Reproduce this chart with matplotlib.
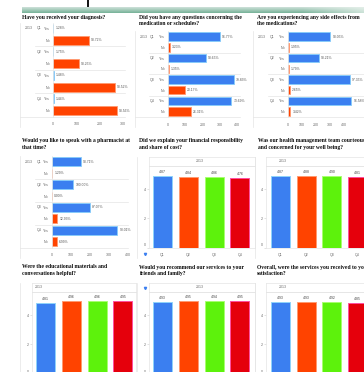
import matplotlib
matplotlib.use("Agg")
import matplotlib.pyplot as plt
import numpy as np
from matplotlib.lines import Line2D
from matplotlib.transforms import blended_transform_factory

W, H, DPI = 364, 372, 100

# ---- survey data -------------------------------------------------------
year = "2013"
quarters = ["Q1", "Q2", "Q3", "Q4"]
answers = ["Yes", "No"]

# yes / no response counts per quarter
diagnosis_yes = [2, 2, 4, 4]
diagnosis_no = [154, 112, 266, 273]
questions_yes = [300, 220, 380, 367]
questions_no = [10, 3, 96, 131]
side_effects_yes = [302, 219, 440, 452]
side_effects_no = [6, 4, 12, 16]
pharmacist_yes = [153, 114, 202, 346]
pharmacist_no = [2, 0, 30, 26]

# average satisfaction scores per quarter (1-5 scale)
financial_scores = [4.87, 4.84, 4.86, 4.76]
courtesy_scores = [4.87, 4.88, 4.90, 4.81]
materials_scores = [4.81, 4.96, 4.96, 4.95]
recommend_scores = [4.93, 4.95, 4.94, 4.95]
satisfaction_scores = [4.93, 4.93, 4.92, 4.85]

score_ticks = [0, 2, 4]

titles = {
    "diagnosis": "Have you received your diagnosis?",
    "questions": "Did you have any questions concerning the\nmedication or schedules?",
    "side_effects": "Are you experiencing any side effects from\nthe medications?",
    "pharmacist": "Would you like to speak with a pharmacist at\nthat time?",
    "financial": "Did we explain your financial responsibility\nand share of cost?",
    "courtesy": "Was our health management team courteous\nand concerned for your well being?",
    "materials": "Were the educational materials and\nconversations helpful?",
    "recommend": "Would you recommend our services to your\nfriends and family?",
    "satisfaction": "Overall, were the services you received to your\nsatisfaction?",
}

# ---- styling -----------------------------------------------------------
YES_COLOR, YES_EDGE = "#3b7ff0", "#86cdfa"
NO_COLOR, NO_EDGE = "#ff4300", "#ff9a70"
SCORE_COLORS = ["#3b7ff0", "#ff4300", "#5df20c", "#e5000c"]
SCORE_EDGES = ["#8fd3fb", "#ff9a70", "#a8ff70", "#ff4fa0"]
FRAME = "#e4e4e4"
TICK_COLOR = "#6a6a6a"
TICK_FONT = dict(family="Liberation Sans", size=2.6, color=TICK_COLOR)
TITLE_FONT = dict(family="Liberation Serif", size=4.1, weight="bold", color="#0d0d0d")

fig = plt.figure(figsize=(W / DPI, H / DPI), dpi=DPI)
fig.patch.set_facecolor("white")


def rect(x0, y0, x1, y1):
    return [x0 / W, 1 - y1 / H, (x1 - x0) / W, (y1 - y0) / H]


def fline(xs, ys, color=FRAME, lw=0.5):
    fig.add_artist(Line2D([x / W for x in xs], [1 - y / H for y in ys],
                          color=color, lw=lw, transform=fig.transFigure))


def title(x, y, text):
    for i, line in enumerate(text.split("\n")):
        fig.text(x / W, 1 - (y + i * 6.6) / H, line, ha="left", va="center",
                 **TITLE_FONT)


def hbar_panel(frame_left, left, right, top, bottom, yes, no, step, label_x,
               n_ticks):
    ax = fig.add_axes(rect(left, top, right, bottom))
    n = len(quarters)
    vals, colors, edges, labels = [], [], [], []
    for y_val, n_val in zip(yes, no):
        vals += [y_val, n_val]
        colors += [YES_COLOR, NO_COLOR]
        edges += [YES_EDGE, NO_EDGE]
        labels += answers
    pos = np.arange(2 * n)
    ax.barh(pos, vals, height=0.78, color=colors, edgecolor=edges, linewidth=0.6)
    ax.set_ylim(2 * n - 0.5, -0.5)
    xmax = (right - left) / step[1]
    ax.set_xlim(0, xmax)
    ticks = [step[0] * k for k in range(n_ticks)]
    ax.set_xticks(ticks, [f"{t:g}" for t in ticks], **TICK_FONT)
    ax.set_yticks(pos, labels, **TICK_FONT)
    ax.tick_params(length=0, pad=2.2)
    ax.tick_params(axis="x", pad=4.0)
    for s in ax.spines.values():
        s.set_visible(False)
    ax.spines["left"].set_visible(True)
    ax.spines["left"].set_color(FRAME)
    ax.spines["left"].set_linewidth(0.5)
    # percentage of each quarter's responses
    for q in range(n):
        total = yes[q] + no[q]
        for k, v in enumerate((yes[q], no[q])):
            pct = 100.0 * v / total if total else 0.0
            ax.annotate(f"{pct:.2f}%", (v, 2 * q + k), xytext=(1.6, 0),
                        textcoords="offset points", ha="left", va="center",
                        family="Liberation Sans", size=2.4, color="#555555")
    # year / quarter header column
    tr = blended_transform_factory(fig.transFigure, ax.transData)
    fig.text(label_x[0] / W, 0, year, transform=tr, ha="center", va="center",
             **TICK_FONT)
    for q, name in enumerate(quarters):
        fig.text(label_x[1] / W, 2 * q, name, transform=tr, ha="center",
                 va="center", **TICK_FONT)
    # frame lines of the table
    row_h = (bottom - top) / (2 * n)
    fline([frame_left, frame_left], [top, bottom + 10])
    fline([frame_left, right], [bottom, bottom])
    for q in range(1, n):
        yy = top + 2 * q * row_h
        fline([label_x[1] - 4, right], [yy, yy])
    return ax


def vbar_panel(frame_left, left, right, top, bottom, center0, scores,
               header_x, show_quarters=True):
    step, px_per_unit = 25.8, 14.6
    ax = fig.add_axes(rect(left, top, right, bottom))
    x = np.arange(len(quarters))
    ax.bar(x, scores, width=0.74, color=SCORE_COLORS, edgecolor=SCORE_EDGES,
           linewidth=0.7)
    ax.set_xlim(-(center0 - left) / step, (right - center0) / step)
    ax.set_ylim(0, (bottom - top) / px_per_unit)
    ax.set_yticks(score_ticks, [str(t) for t in score_ticks], **TICK_FONT)
    # the baseline label sits just above the axis floor
    ax.get_yticklabels()[0].set_verticalalignment("bottom")
    if show_quarters:
        ax.set_xticks(x, quarters, **TICK_FONT)
    else:
        ax.set_xticks(x, [])
    ax.tick_params(axis="y", length=1.2, width=0.4, color="#cccccc", pad=1.2)
    ax.tick_params(axis="x", length=0, pad=4.0)
    for s in ax.spines.values():
        s.set_color(FRAME)
        s.set_linewidth(0.5)
    for i, v in enumerate(scores):
        ax.annotate(f"{v:.2f}", (i, v), xytext=(0, 1.4),
                    textcoords="offset points", ha="center", va="bottom",
                    family="Liberation Sans", size=2.5, color="#444444")
    # year header row above the bars
    hdr = fig.add_axes(rect(left, top - 9, right, top))
    hdr.set_xticks([])
    hdr.set_yticks([])
    for s in hdr.spines.values():
        s.set_color(FRAME)
        s.set_linewidth(0.5)
    fig.text(header_x / W, 1 - (top - 4.5) / H, year, ha="center",
             va="center", **TICK_FONT)
    fline([frame_left, frame_left], [top - 9, bottom + 10])
    return ax


# ---- page header strip -------------------------------------------------
strip = fig.add_axes(rect(22, 7, W, 13.5))
grad_v = np.linspace(0, 1, 16)[:, None]
grad_h = np.clip((np.linspace(0, 1, 256)[None, :] - 0.82) / 0.18, 0, 1)
top_c = np.array([0.86, 0.91, 0.89])
bot_c = np.array([0.47, 0.70, 0.60])
light = np.array([0.93, 0.96, 0.94])
img = top_c[None, None, :] * (1 - grad_v[..., None]) + bot_c[None, None, :] * grad_v[..., None]
img = img * (1 - grad_h[..., None] * 0.7) + light[None, None, :] * grad_h[..., None] * 0.7
strip.imshow(img, aspect="auto", extent=[0, 1, 0, 1])
strip.axis("off")
fline([88, 88], [0, 6], color="#111111", lw=1.4)

# ---- row 1 -------------------------------------------------------------
title(22, 17, titles["diagnosis"])
hbar_panel(20, 53, 125, 22.5, 116.5, diagnosis_yes, diagnosis_no,
           (100, 0.233), (28.5, 39), 4)
title(139, 17, titles["questions"])
hbar_panel(135, 168, 240, 31.3, 117, questions_yes, questions_no,
           (100, 0.1725), (143.5, 152.5), 5)
title(257, 17, titles["side_effects"])
hbar_panel(253, 288, 372, 31.3, 117, side_effects_yes, side_effects_no,
           (100, 0.14), (261.5, 272), 5)

# ---- row 2 -------------------------------------------------------------
title(22, 140.7, titles["pharmacist"])
hbar_panel(20, 51.7, 128, 156, 247.5, pharmacist_yes, pharmacist_no,
           (100, 0.19), (28.5, 39), 5)
title(139, 140.7, titles["financial"])
vbar_panel(137, 149, 255, 166, 247.5, 162.5, financial_scores, 200)
title(258, 140.7, titles["courtesy"])
vbar_panel(255, 266, 372, 166, 247.5, 280.3, courtesy_scores, 283)

# ---- row 3 -------------------------------------------------------------
title(22, 267, titles["materials"])
vbar_panel(20, 32, 136, 292, 373.5, 45.5, materials_scores, 39, False)
title(139, 267, titles["recommend"])
vbar_panel(137, 149, 255, 292, 373.5, 162.5, recommend_scores, 200, False)
title(257, 267, titles["satisfaction"])
vbar_panel(255, 266, 372, 292, 373.5, 280.3, satisfaction_scores, 283, False)

# small blue filter markers
for yy in (254, 288):
    fig.add_artist(Line2D([145 / W], [1 - yy / H], marker="v", ms=1.6,
                          color=YES_COLOR, transform=fig.transFigure))

fig.savefig("out.png", dpi=DPI, facecolor="white")
